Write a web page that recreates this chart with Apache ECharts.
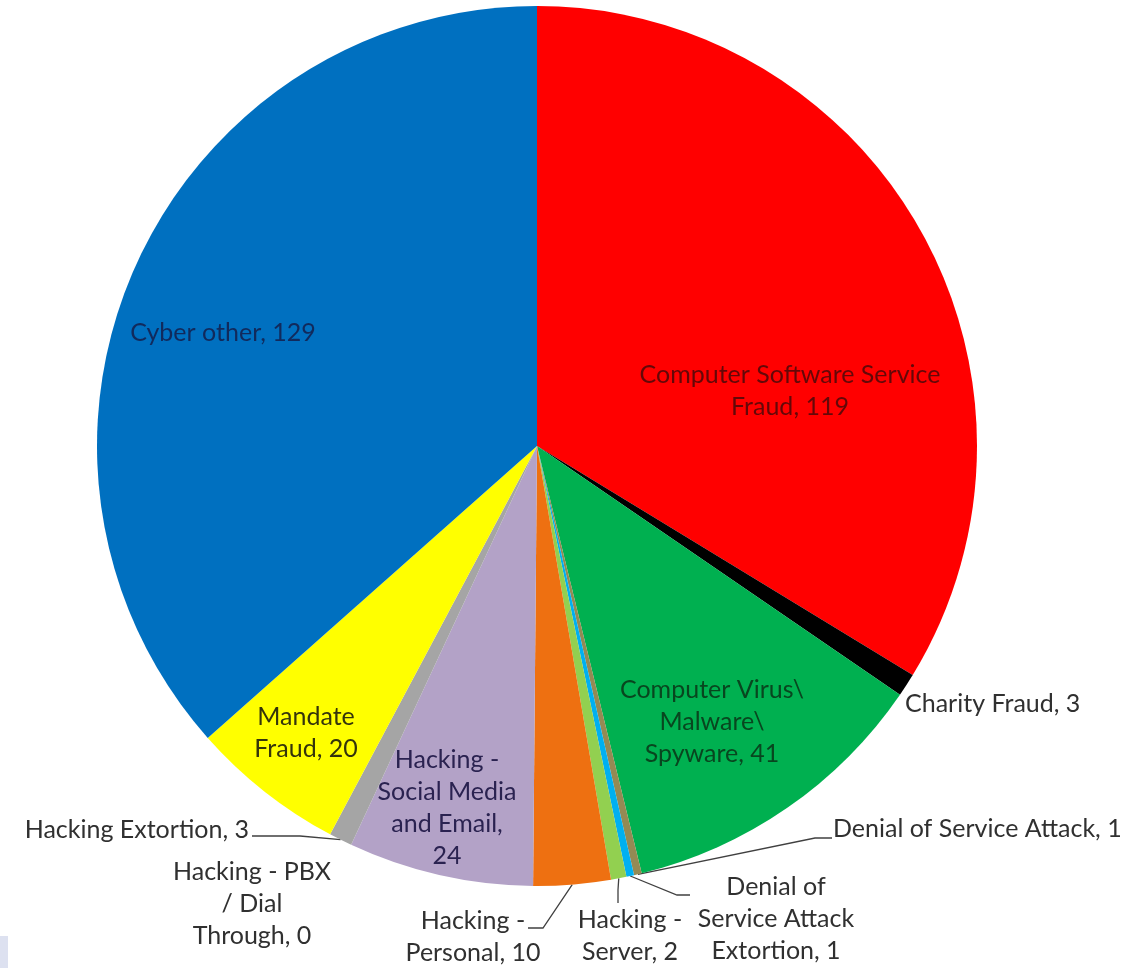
<!DOCTYPE html>
<html><head><meta charset="utf-8">
<script src="https://cdn.jsdelivr.net/npm/echarts@6/dist/echarts.min.js"></script>
<style>html,body{margin:0;padding:0;background:#fff}#c{width:1129px;height:968px}</style>
</head><body><div id="c"></div>
<script>
const categories = ['Computer Software Service Fraud','Charity Fraud','Computer Virus\\ Malware\\ Spyware','Denial of Service Attack','Denial of Service Attack Extortion','Hacking - Server','Hacking - Personal','Hacking - Social Media and Email','Hacking - PBX / Dial Through','Hacking Extortion','Mandate Fraud','Cyber other'];
const values = [119, 3, 41, 1, 1, 2, 10, 24, 0, 3, 20, 129];
const labelFormats = ['Computer Software Service\nFraud, {c}','Charity Fraud, {c}','Computer Virus\\\nMalware\\\nSpyware, {c}','Denial of Service Attack, {c}','Denial of\nService Attack\nExtortion, {c}','Hacking -\nServer, {c}','Hacking -\nPersonal, {c}','Hacking -\nSocial Media\nand Email,\n{c}','Hacking - PBX\n/ Dial\nThrough, {c}','Hacking Extortion, {c}','Mandate\nFraud, {c}','Cyber other, {c}'];
const colors = ['#FF0000','#000000','#00B050','#948A54','#00B0F0','#92D050','#EE7011','#B3A2C7','#7F7F7F','#A5A5A5','#FFFF00','#0070C0'];
const labelColors = ['#640808','#303030','#08461f','#303030','#303030','#303030','#303030','#2a2250','#303030','#303030','#34340c','#112a5c'];
const showLine = [false,false,false,true,true,true,true,false,false,true,false,false];

// label placement (layout only)
const placement = [
  {x:790, y:391, align:'center'},
  {x:905, y:704, align:'left'},
  {x:712, y:722, align:'center'},
  {x:833, y:829, align:'left', line:[[815,838],[832,838]]},
  {x:776, y:919, align:'center', line:[[677,895],[690,895]]},
  {x:630, y:936, align:'center', line:[[618,890],[618,903]]},
  {x:473, y:937, align:'center', line:[[543,928],[528,928]]},
  {x:447, y:808, align:'center'},
  {x:252, y:904, align:'center'},
  {x:249, y:830, align:'right', line:[[300,836],[252,836]]},
  {x:306, y:733, align:'center'},
  {x:223, y:333, align:'center'}
];

const data = categories.map((n, i) => ({
  name: n,
  value: values[i],
  itemStyle: {color: colors[i]},
  label: {formatter: labelFormats[i], color: labelColors[i]},
  labelLine: {show: showLine[i]}
}));

const chart = echarts.init(document.getElementById('c'));
chart.setOption({
  animation: false,
  series: [{
    type: 'pie',
    center: [537, 446],
    radius: 440,
    startAngle: 90,
    clockwise: true,
    avoidLabelOverlap: false,
    data: data,
    label: {show: true, position: 'outside', fontFamily: 'Lato', fontSize: 25, lineHeight: 32, overflow: 'none'},
    labelLine: {show: true, length: 10, length2: 10, lineStyle: {color: '#404040', width: 1.3}},
    emphasis: {disabled: true},
    labelLayout: function (params) {
      const p = placement[params.dataIndex];
      const out = {x: p.x, y: p.y, align: p.align, verticalAlign: 'middle'};
      if (p.line && params.labelLinePoints) {
        const s = params.labelLinePoints[0];
        out.labelLinePoints = [[s[0], s[1]], p.line[0], p.line[1]];
      }
      return out;
    }
  }],
  graphic: [{type: 'rect', shape: {x: 0, y: 936, width: 8, height: 32}, style: {fill: '#dde1f0'}}]
});
</script></body></html>
